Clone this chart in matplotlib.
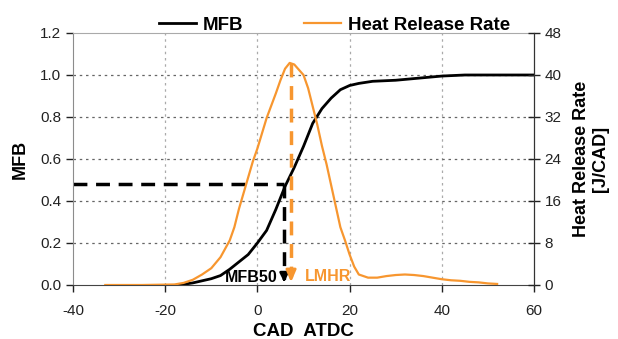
import numpy as np
import matplotlib.pyplot as plt

plt.rcParams['font.family'] = ['Liberation Sans', 'DejaVu Sans']
plt.rcParams['axes.unicode_minus'] = False

# mass fraction burned
cad_mfb = [-17, -14, -10, -8, -6, -4, -2, 0, 2, 4, 6, 8, 10, 12, 14, 16, 18, 20, 22,
           25, 30, 35, 40, 45, 50, 55, 60]
mfb = [0.0, 0.01, 0.03, 0.045, 0.075, 0.11, 0.145, 0.2, 0.26, 0.36, 0.47, 0.56, 0.66,
       0.77, 0.84, 0.89, 0.93, 0.95, 0.96, 0.97, 0.975, 0.985, 0.995, 1.0, 1.0, 1.0, 1.0]

# heat release rate [J/CAD]
cad_hrr = [-33, -25, -18, -16, -14, -12, -10, -8, -6, -5, -4, -3, -2, -1, 0, 2, 4, 5,
           6, 7, 8, 9, 10, 11, 12, 13, 14, 15, 16, 17, 18, 19, 20, 21, 22, 24, 26, 28,
           30, 32, 34, 36, 38, 40, 42, 44, 46, 48, 50, 52]
hrr = [0, 0, 0.1, 0.4, 1.0, 2.0, 3.2, 5.3, 8.5, 11, 14.5, 17.5, 20.5, 23.5, 26, 31.8,
       36.5, 39, 41.2, 42.3, 42, 41, 40, 37.5, 34, 30.5, 26.5, 23, 19, 15, 11, 8.5, 5.8,
       3.5, 2.0, 1.4, 1.4, 1.7, 1.9, 2.0, 1.9, 1.7, 1.4, 1.1, 0.9, 0.8, 0.6, 0.5, 0.3, 0.2]

mfb50_cad, mfb50_val = 5.8, 0.48
lmhr_cad, lmhr_val = 7.3, 42.3

orange = '#F7962F'
grey = '#8c8c8c'

fig = plt.figure(figsize=(6.18, 3.39), dpi=100)
ax = fig.add_axes([73 / 618, 1 - 285 / 339, 461 / 618, 252 / 339])
ax2 = ax.twinx()

ax.plot(cad_mfb, mfb, color='black', lw=2, label='MFB')
ax2.plot(cad_hrr, hrr, color=orange, lw=1.6, label='Heat Release Rate')

# MFB50 / LMHR markers
ax.plot([-40, mfb50_cad], [mfb50_val, mfb50_val], color='black', lw=2.5, ls=(0, (4, 2.5)))
ax.plot([mfb50_cad, mfb50_cad], [mfb50_val, 0.03], color='black', lw=2.5, ls=(0, (4, 2.5)))
ax.annotate('', xy=(mfb50_cad, 0), xytext=(mfb50_cad, 0.05),
            arrowprops=dict(arrowstyle='-|>,head_width=0.25,head_length=0.5', color='black', lw=2))
ax2.plot([lmhr_cad, lmhr_cad], [lmhr_val, 1.5], color=orange, lw=2.5, ls=(0, (4, 2.5)))
ax2.annotate('', xy=(lmhr_cad, 0), xytext=(lmhr_cad, 2.5),
             arrowprops=dict(arrowstyle='-|>,head_width=0.3,head_length=0.7', color=orange, lw=2))
ax.text(4.3, 0.036, 'MFB50', ha='right', va='center', fontsize=11.5, fontweight='bold', color='black')
ax.text(10.3, 0.04, 'LMHR', ha='left', va='center', fontsize=11.5, fontweight='bold', color=orange)

ax.set_xlim(-40, 60)
ax.set_ylim(0, 1.2)
ax2.set_ylim(0, 48)
ax.set_xticks([-40, -20, 0, 20, 40, 60])
ax.set_yticks(np.arange(0, 1.21, 0.2))
ax.set_yticklabels(['0.0', '0.2', '0.4', '0.6', '0.8', '1.0', '1.2'])
ax2.set_yticks(range(0, 49, 8))

for x in [-20, 0, 20, 40]:
    ax.axvline(x, color='#aaaaaa', lw=0.9, ls=(0, (2, 3)), zorder=0)
for y in [0.2, 0.4, 0.6, 0.8, 1.0]:
    ax.axhline(y, color='#666666', lw=0.9, ls=(0, (2, 3)), zorder=0)

ax.tick_params(labelsize=11, colors='#222222', direction='out', length=5, width=1)
ax.tick_params(axis='x', pad=9)
ax2.tick_params(labelsize=11, colors='#222222', direction='inout', length=8, width=1)
ax.spines['left'].set_color(grey)
ax.spines['top'].set_color('#aaaaaa')
ax.spines['bottom'].set_color('#444444')
ax2.spines['left'].set_visible(False)
ax2.spines['top'].set_visible(False)
ax2.spines['bottom'].set_visible(False)
ax2.spines['right'].set_color('#333333')

ax.set_ylabel('MFB', fontsize=13, fontweight='bold', labelpad=8)
ax.set_xlabel('CAD  ATDC', fontsize=13.5, fontweight='bold', labelpad=3)
ax2.set_ylabel('Heat Release Rate\n[J/CAD]', fontsize=13, fontweight='bold', labelpad=8)

h1, l1 = ax.get_legend_handles_labels()
h2, l2 = ax2.get_legend_handles_labels()
fig.legend(h1 + h2, l1 + l2, loc='center', bbox_to_anchor=(0.541, 0.926), ncol=2,
           frameon=False, handlelength=2.0, handletextpad=0.35, columnspacing=3.2,
           prop={'weight': 'bold', 'size': 13.5})

fig.savefig('out.png', dpi=100)
